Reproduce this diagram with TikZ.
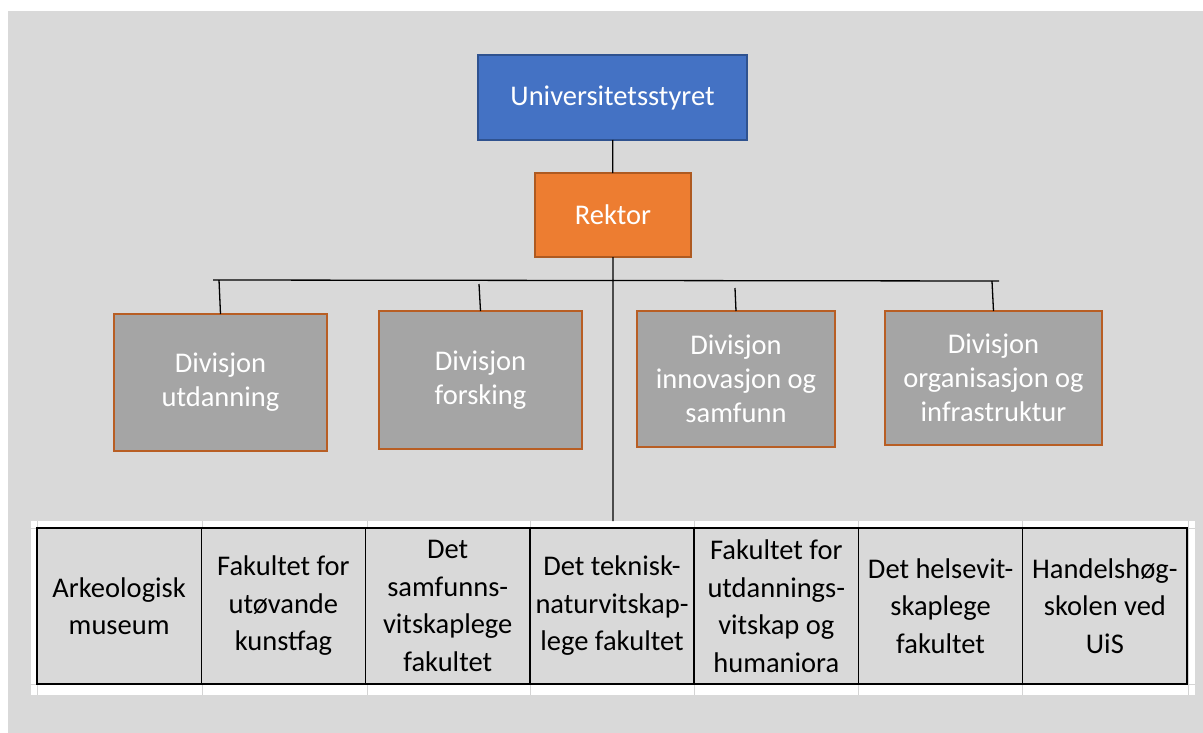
\documentclass[tikz,border=0pt]{standalone}
\usepackage{fontspec}
\setmainfont{Carlito}
\usepackage{xcolor}
\usepackage{tikz}
\usetikzlibrary{positioning}

\definecolor{bggrey}{HTML}{D9D9D9}
\definecolor{styreblue}{HTML}{4472C4}
\definecolor{styreedge}{HTML}{2F528F}
\definecolor{rektororange}{HTML}{ED7D31}
\definecolor{rektoredge}{HTML}{AE5A21}
\definecolor{divgrey}{HTML}{A5A5A5}
\definecolor{divedge}{HTML}{B85E24}
\definecolor{gridgrey}{HTML}{D4D4D4}

\begin{document}
\begin{tikzpicture}[x=1pt, y=-1pt,
    top/.style={draw, line width=2pt, align=center, text=white, inner sep=0pt, outer sep=0pt,
        font=\fontsize{28.5}{34}\selectfont},
    div/.style={top, fill=divgrey, draw=divedge, line width=2.2pt},
    cell/.style={draw=black, line width=1.5pt, fill=bggrey, align=center, inner sep=0pt, outer sep=0pt,
        minimum width=164.29pt, minimum height=156pt, font=\fontsize{28.5}{37.5}\selectfont},
    link/.style={draw=black, line width=1.3pt}]
    \useasboundingbox (0,0) rectangle (1203,733);
    \fill[white] (0,0) rectangle (1203,733);
    \fill[bggrey] (8,11) rectangle (1203,733);

    % spreadsheet strip behind the table
    \fill[white] (31,521) rectangle (1195,695);
    \draw[gridgrey, line width=1pt] (31,528) -- (1195,528) (31,684) -- (1195,684)
    (37,521) -- (37,695) (202,521) -- (202,695) (367,521) -- (367,695) (530,521) -- (530,695)
    (694,521) -- (694,695) (858,521) -- (858,695) (1022,521) -- (1022,695) (1188,521) -- (1188,695);

    % top of the chart
    \node[top, fill=styreblue, draw=styreedge, minimum width=269pt, minimum height=85pt] (styret) at (612.5,97.5) {Universitetsstyret};
    \node[top, fill=rektororange, draw=rektoredge, minimum width=156pt, minimum height=84pt] (rektor) at (613,215) {Rektor};

    % divisions
    \node[div, minimum width=213pt, minimum height=137pt] (utd) at (220.5,382.5) {Divisjon\\utdanning};
    \node[div, minimum width=203pt, minimum height=138pt] (forsk) at (480.5,380) {Divisjon\\forsking};
    \node[div, minimum width=198pt, minimum height=136pt] (innov) at (736,379) {Divisjon\\innovasjon og\\samfunn};
    \node[div, minimum width=217pt, minimum height=134pt] (org) at (993.5,378) {Divisjon\\organisasjon og\\infrastruktur};

    % faculties
    \node[cell] (arkeo) at (119.14,606) {Arkeologisk\\museum};
    \node[cell] (kunst) [right=0pt of arkeo] {Fakultet for\\utøvande\\kunstfag};
    \node[cell] (samf) [right=0pt of kunst] {Det\\samfunns-\\vitskaplege\\fakultet};
    \node[cell] (tekn) [right=0pt of samf] {Det teknisk-\\naturvitskap-\\lege fakultet};
    \node[cell] (utdv) [right=0pt of tekn] {Fakultet for\\utdannings-\\vitskap og\\humaniora};
    \node[cell] (helse) [right=0pt of utdv] {Det helsevit-\\skaplege\\fakultet};
    \node[cell] (handel) [right=0pt of helse] {Handelshøg-\\skolen ved\\UiS};

    % bus and drops
    \coordinate (busL) at (213,280);
    \coordinate (busR) at (999,281);
    \coordinate (utdtop) at (219,280);
    \coordinate (forsktop) at (479,284);
    \coordinate (innovtop) at (735,288);
    \coordinate (orgtop) at (992,281);
    \coordinate (tabletop) at (613,521);

    \path[link]
    (styret) -- (rektor)
    (rektor) -- (tabletop)
    (busL) -- (busR)
    (utdtop) -- (utd.north)
    (forsktop) -- (forsk.north)
    (innovtop) -- (innov.north)
    (orgtop) -- (org.north);
\end{tikzpicture}
\end{document}
